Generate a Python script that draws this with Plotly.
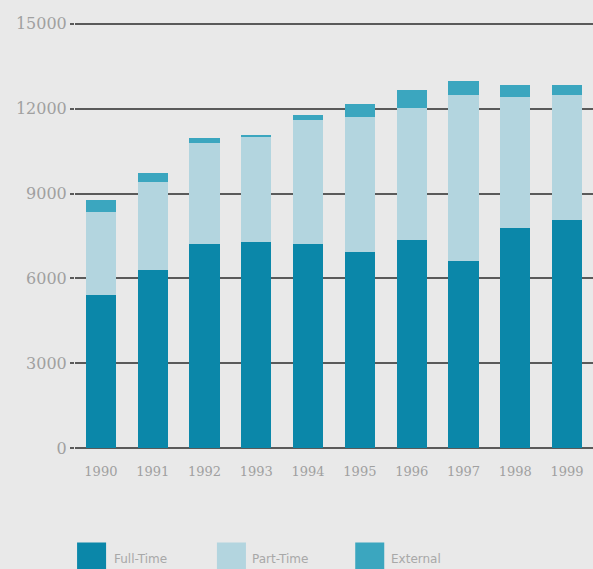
import plotly.graph_objects as go

years = ["1990", "1991", "1992", "1993", "1994", "1995", "1996", "1997", "1998", "1999"]
full_time = [5400, 6300, 7200, 7300, 7200, 6950, 7350, 6610, 7780, 8060]
part_time = [2950, 3110, 3590, 3710, 4400, 4760, 4680, 5880, 4630, 4430]
external = [430, 330, 170, 60, 180, 460, 630, 490, 430, 350]
series_names = ["Full-Time", "Part-Time", "External"]
y_ticks = [0, 3000, 6000, 9000, 12000, 15000]
y_tick_labels = ["0", "3000", "6000", "9000", "12000", "15000"]

colors = ["#0b87a9", "#b3d5df", "#3ba6bf"]

fig = go.Figure()
for name, vals, c in zip(series_names, [full_time, part_time, external], colors):
    fig.add_trace(go.Bar(x=years, y=vals, name=name, marker=dict(color=c, line=dict(width=0)),
                         showlegend=False))

bg = "#e9e9e9"
fig.update_layout(
    width=593, height=569,
    barmode="stack", bargap=0.42,
    paper_bgcolor=bg, plot_bgcolor=bg,
    margin=dict(l=75, r=0, t=22, b=119),
    font=dict(family="DejaVu Serif", color="#999999", size=12),
)
fig.update_yaxes(range=[-60, 15060], tickvals=y_ticks, ticktext=y_tick_labels,
                 showgrid=True, gridcolor="#5a5a5a",
                 gridwidth=2, zeroline=False,
                 ticks="outside", ticklen=4, tickcolor="#5a5a5a", tickwidth=2,
                 tickfont=dict(family="DejaVu Serif", size=16, color="#a0a0a0"),
                 showline=False)
fig.update_xaxes(showgrid=False, showline=False, ticks="", ticklabelstandoff=12,
                 tickfont=dict(family="DejaVu Serif", size=13, color="#a0a0a0"))

# custom legend with larger swatches (paper coords)
legend_x0 = [0.004, 0.274, 0.541]
legend_tx = [0.071, 0.337, 0.606]
for name, c, x0, tx in zip(series_names, colors, legend_x0, legend_tx):
    fig.add_shape(type="rect", xref="paper", yref="paper",
                  x0=x0, x1=x0 + 0.056, y0=-0.32, y1=-0.216,
                  fillcolor=c, line=dict(width=0), layer="above")
    fig.add_annotation(xref="paper", yref="paper", x=tx, y=-0.255, text=name,
                       showarrow=False, xanchor="left", yanchor="middle",
                       font=dict(family="DejaVu Sans", size=12, color="#a8a8a8"))

fig.write_html("out.html", config={"displayModeBar": False},
               post_script="document.body.style.margin='0';")
